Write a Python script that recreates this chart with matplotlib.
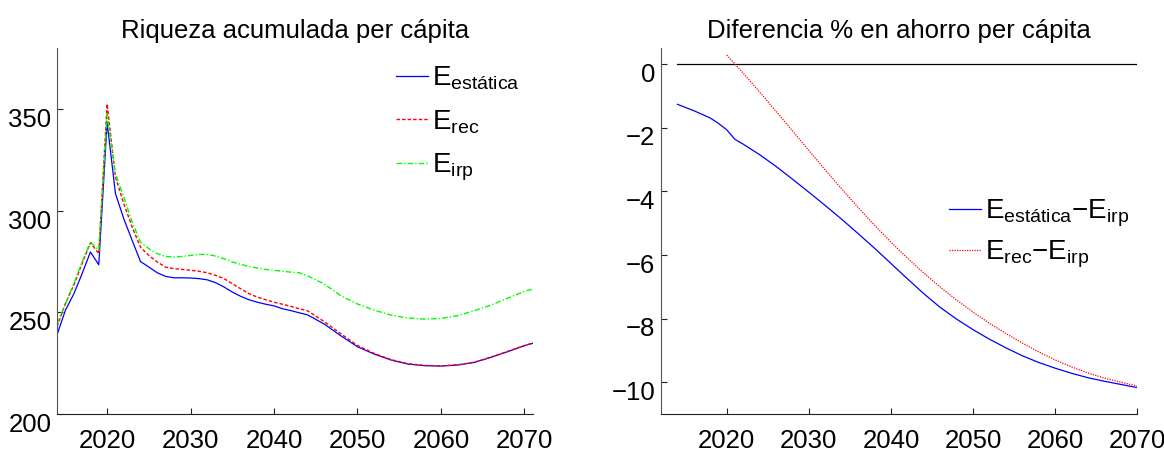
import matplotlib
matplotlib.use("Agg")
import matplotlib.pyplot as plt
from matplotlib.transforms import ScaledTranslation

plt.rcParams['font.family'] = ['Liberation Sans', 'DejaVu Sans']
plt.rcParams['mathtext.fontset'] = 'custom'
plt.rcParams['mathtext.rm'] = 'Liberation Sans'
plt.rcParams['mathtext.it'] = 'Liberation Sans:italic'
plt.rcParams['mathtext.bf'] = 'Liberation Sans:bold'

FS = 18.5      # ticks and titles
FS_LEG = 20    # legend entries

# ---- left panel: riqueza acumulada per capita ----
years_l = list(range(2014, 2044)) + list(range(2044, 2071, 2)) + [2071]

riq_estatica = [239.0, 251.0, 259.0, 269.0, 279.7, 273.4, 343.5, 308.4, 296.0, 285.4,
                275.0, 272.3, 269.5, 267.7, 267.0, 267.0, 266.9, 266.6, 266.0, 264.6,
                262.5, 260.0, 257.9, 256.2, 255.0, 254.0, 253.2, 251.8, 250.9, 249.8,
                248.8, 244.3, 238.5, 233.1, 229.5, 226.6, 224.6, 223.8, 223.6, 224.1,
                225.4, 227.9, 230.7, 233.6, 234.8]
riq_rec = [243.0, 254.3, 263.3, 274.0, 284.3, 278.9, 352.5, 316.6, 303.4, 292.0,
           282.0, 278.0, 274.8, 272.3, 271.5, 271.1, 270.7, 270.2, 269.5, 268.2,
           266.6, 264.1, 261.6, 259.2, 257.5, 256.2, 255.0, 254.0, 253.0, 251.8,
           250.8, 245.5, 239.5, 233.7, 229.8, 226.8, 224.8, 223.9, 223.7, 224.2,
           225.5, 228.0, 230.8, 233.7, 234.9]
riq_irp = [244.4, 254.0, 264.0, 274.8, 284.6, 280.5, 347.7, 318.0, 306.7, 294.4,
           284.6, 281.3, 278.9, 277.5, 277.2, 277.5, 278.0, 278.5, 278.5, 277.7,
           276.4, 274.8, 273.6, 272.6, 271.8, 271.1, 270.7, 270.2, 269.8, 269.5,
           268.0, 264.0, 258.2, 254.1, 251.1, 248.7, 247.2, 246.7, 247.0, 248.4,
           250.8, 253.6, 257.0, 260.3, 261.5]

# ---- right panel: diferencia % en ahorro per capita ----
years_est = [2014, 2016, 2018, 2019, 2020, 2021, 2022] + list(range(2024, 2071, 2))
dif_estatica = [-1.27, -1.47, -1.70, -1.87, -2.07, -2.37, -2.52,
                -2.85, -3.22, -3.62, -4.03, -4.45, -4.88, -5.33, -5.79, -6.27,
                -6.75, -7.22, -7.65, -8.02, -8.35, -8.65, -8.92, -9.17, -9.38,
                -9.56, -9.72, -9.86, -9.97, -10.07, -10.17]
years_rec = [2020, 2021] + list(range(2022, 2071, 2))
dif_rec = [0.28, 0.0, -0.29, -0.88, -1.49, -2.10, -2.72, -3.33, -3.93, -4.51, -5.07,
           -5.60, -6.10, -6.57, -7.01, -7.42, -7.80, -8.15, -8.47, -8.77, -9.05,
           -9.30, -9.52, -9.71, -9.87, -10.00, -10.12]

xticks = [2020, 2030, 2040, 2050, 2060, 2070]

fig = plt.figure(figsize=(11.64, 4.55), dpi=100)
ax1 = fig.add_axes([0.049, 0.090, 0.4087, 0.8045])
ax2 = fig.add_axes([0.5679, 0.090, 0.4092, 0.8045])

ax1.plot(years_l, riq_estatica, color='#0000ff', lw=0.9, label=r'E$_{\mathrm{estática}}$')
ax1.plot(years_l, riq_rec, color='#ff0000', lw=1.0, ls=(0, (2.5, 1.5)), label=r'E$_{\mathrm{rec}}$')
ax1.plot(years_l, riq_irp, color='#00ff00', lw=1.0, ls=(0, (4, 1.5, 1, 1.5)), label=r'E$_{\mathrm{irp}}$')
ax1.set_xlim(2014, 2071)
ax1.set_ylim(200, 380)
ax1.set_yticks([200, 250, 300, 350])
ax1.set_title('Riqueza acumulada per cápita', fontsize=FS, pad=7)
ax1.legend(loc='upper left', bbox_to_anchor=(0.712, 0.955), frameon=False,
           fontsize=FS_LEG, handlelength=1.15, handletextpad=0.15,
           labelspacing=0.58, borderpad=0, borderaxespad=0)

ax2.plot([2014, 2070], [0, 0], color='black', lw=0.9)
ax2.plot(years_est, dif_estatica, color='#0000ff', lw=0.9,
         label=r'E$_{\mathrm{estática}}$−E$_{\mathrm{irp}}$')
ax2.plot(years_rec, dif_rec, color='#ff0000', lw=0.9, ls=(0, (1, 1)),
         label=r'E$_{\mathrm{rec}}$−E$_{\mathrm{irp}}$')
ax2.set_xlim(2012, 2070)
ax2.set_ylim(-11, 0.5)
ax2.set_yticks([0, -2, -4, -6, -8, -10])
ax2.set_title('Diferencia % en ahorro per cápita', fontsize=FS, pad=7)
ax2.legend(loc='upper left', bbox_to_anchor=(0.604, 0.59), frameon=False,
           fontsize=FS_LEG, handlelength=1.15, handletextpad=0.15,
           labelspacing=0.33, borderpad=0, borderaxespad=0)

shift = ScaledTranslation(0, -6 / 72, fig.dpi_scale_trans)
for ax in (ax1, ax2):
    ax.set_xticks(xticks)
    for side in ('top', 'right'):
        ax.spines[side].set_visible(False)
    ax.spines['left'].set_color('#555555')
    ax.spines['bottom'].set_color('#222222')
    ax.tick_params(direction='in', length=4, width=0.8, labelsize=FS, colors='#222222',
                   labelcolor='black')
    ax.tick_params(axis='x', pad=11)
    ax.tick_params(axis='y', pad=4)
    for tick in ax.yaxis.get_major_ticks():
        tick.label1.set_transform(tick.label1.get_transform() + shift)

fig.savefig('out.png', dpi=100)
